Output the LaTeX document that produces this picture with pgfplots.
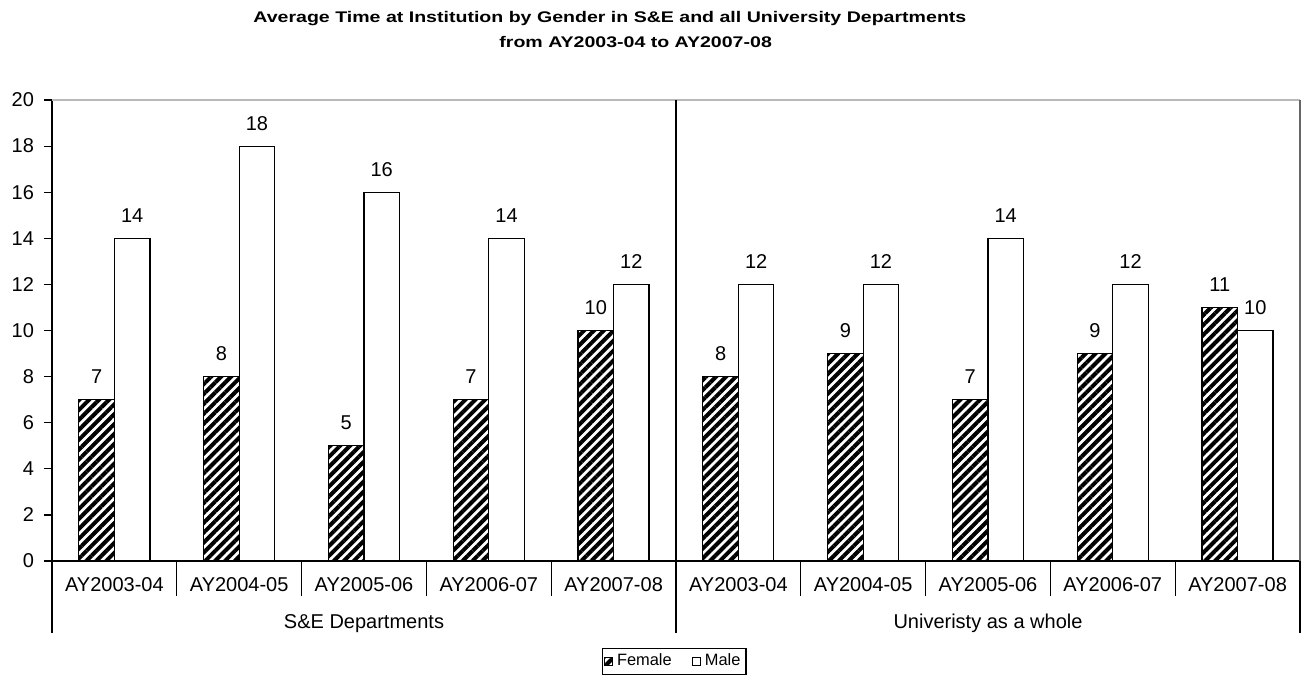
\documentclass[border=0pt]{standalone}
\usepackage{fontspec}
\setmainfont{Liberation Sans}
\usepackage{pgfplots}
\pgfplotsset{compat=1.18}
\usetikzlibrary{patterns.meta}
\begin{document}
\begin{tikzpicture}
\useasboundingbox (0,0) rectangle (654pt,338.5pt);
\node[font=\bfseries\fontsize{7.7}{9}\selectfont, anchor=base west, inner sep=0pt] at (126.5pt,327.5pt)
  {\scalebox{1.27}[1]{Average Time at Institution by Gender in S\&E and all University Departments}};
\node[font=\bfseries\fontsize{7.7}{9}\selectfont, anchor=base west, inner sep=0pt] at (249.5pt,315pt)
  {\scalebox{1.27}[1]{from AY2003-04 to AY2007-08}};
\begin{axis}[
  at={(26pt,58pt)}, anchor=south west,
  scale only axis, width=624pt, height=230.5pt,
  xmin=-0.5, xmax=9.5, ymin=0, ymax=20,
  enlargelimits=false, clip=false,
  axis x line*=bottom, axis y line*=left,
  axis line style={black, line width=0.6pt},
  ytick={0,2,...,20},
  xtick={0,...,9},
  xticklabels={AY2003-04,AY2004-05,AY2005-06,AY2006-07,AY2007-08,AY2003-04,AY2004-05,AY2005-06,AY2006-07,AY2007-08},
  xtick style={draw=none},
  ytick style={black, line width=0.6pt},
  tick align=outside, major tick length=4pt,
  ticklabel style={font=\fontsize{10}{12}\selectfont},
  xticklabel style={anchor=base, yshift=-11pt},
  yticklabel style={anchor=east, xshift=-1.5pt},
  /pgf/number format/assume math mode=true,
  ybar=0pt, bar width=17.75pt,
  nodes near coords,
  nodes near coords style={font=\fontsize{10}{12}\selectfont, black, anchor=base, yshift=8pt},
  legend style={at={(0.4985,-0.218)}, anchor=center, legend columns=2, draw=black, line width=0.6pt,
    font=\fontsize{8.2}{9}\selectfont, inner sep=0.8pt,
    /tikz/every even column/.style={column sep=8pt}},
  legend image code/.code={\draw[#1, line width=0.4pt] (0pt,-2.1pt) rectangle (4.2pt,2.1pt);},
]
\addplot[draw=black, line width=0.6pt, pattern={Lines[angle=45,distance=3.5pt,line width=2pt]}, pattern color=black]
  coordinates {(0,7) (1,8) (2,5) (3,7) (4,10) (5,8) (6,9) (7,7) (8,9) (9,11)};
\addplot[draw=black, line width=0.6pt, fill=white]
  coordinates {(0,14) (1,18) (2,16) (3,14) (4,12) (5,12) (6,12) (7,14) (8,12) (9,10)};
\legend{Female,Male}
\draw[gray!55, line width=0.8pt] (rel axis cs:0,1) -- (rel axis cs:1,1);
\draw[gray!80!black, line width=0.8pt] (rel axis cs:1,1) -- (rel axis cs:1,0);
\pgfplotsinvokeforeach{0.5,1.5,2.5,3.5,5.5,6.5,7.5,8.5}
  {\draw[black, line width=0.6pt] (axis cs:#1,0) -- ++(0pt,-17.5pt);}
\pgfplotsinvokeforeach{-0.5,4.5,9.5}
  {\draw[black, line width=0.6pt] (axis cs:#1,0) -- ++(0pt,-36pt);}
\draw[black, line width=0.8pt] (axis cs:4.5,0) -- (axis cs:4.5,20);
\node[font=\fontsize{10}{12}\selectfont, anchor=base] at ([yshift=-33.5pt]axis cs:2,0) {S\&E Departments};
\node[font=\fontsize{10}{12}\selectfont, anchor=base] at ([yshift=-33.5pt]axis cs:7,0) {Univeristy as a whole};
\end{axis}
\end{tikzpicture}
\end{document}
